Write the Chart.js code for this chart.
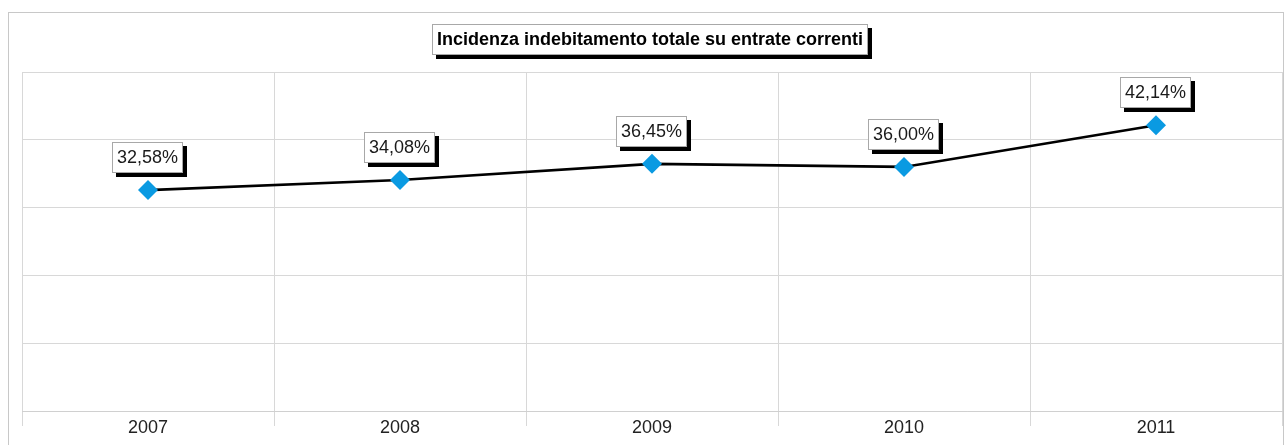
<!DOCTYPE html>
<html><head><meta charset="utf-8">
<script src="https://cdn.jsdelivr.net/npm/chart.js@4/dist/chart.umd.min.js"></script>
<style>html,body{margin:0;padding:0;background:#fff}#wrap{width:1285px;height:445px;position:relative}</style>
</head><body><div id="wrap"><canvas id="c" width="1285" height="445"></canvas></div>
<script>
const categories = ['2007', '2008', '2009', '2010', '2011'];
const values = [32.58, 34.08, 36.45, 36.00, 42.14];
const chartTitle = 'Incidenza indebitamento totale su entrate correnti';
const yMin = 0, yMax = 50, yStep = 10;

const FONT = '"Liberation Sans", Arial, sans-serif';

function shadowBox(ctx, x, y, w, h, off) {
  ctx.fillStyle = '#000';
  ctx.fillRect(x + off, y + off, w, h);
  ctx.fillStyle = '#fff';
  ctx.fillRect(x, y, w, h);
  ctx.strokeStyle = '#a8a8a8';
  ctx.lineWidth = 1;
  ctx.strokeRect(x + 0.5, y + 0.5, w - 1, h - 1);
}

const decor = {
  id: 'decor',
  beforeDraw(chart) {
    const ctx = chart.ctx;
    ctx.save();
    ctx.strokeStyle = '#c8c8c8';
    ctx.lineWidth = 1;
    ctx.strokeRect(8.5, 12.5, 1275, 450);
    ctx.restore();
  },
  afterDraw(chart) {
    const ctx = chart.ctx;
    ctx.save();
    ctx.font = 'bold 18px ' + FONT;
    const tw = ctx.measureText(chartTitle).width;
    const w = Math.round(tw + 10), h = 31;
    const cx = 650;
    shadowBox(ctx, Math.round(cx - w / 2), 24, w, h, 4);
    ctx.fillStyle = '#000';
    ctx.textAlign = 'center';
    ctx.textBaseline = 'middle';
    ctx.fillText(chartTitle, cx, 24 + h / 2 + 1);
    ctx.restore();
  },
  afterDatasetsDraw(chart) {
    const ctx = chart.ctx;
    const meta = chart.getDatasetMeta(0);
    ctx.save();
    ctx.font = '18px ' + FONT;
    meta.data.forEach((pt, i) => {
      const txt = values[i].toFixed(2).replace('.', ',') + '%';
      const tw = ctx.measureText(txt).width;
      const w = Math.round(tw + 10), h = 31;
      const x = Math.round(pt.x - w / 2 - 1), y = Math.round(pt.y - 17 - h);
      shadowBox(ctx, x, y, w, h, 4);
      ctx.fillStyle = '#1a1a1a';
      ctx.textAlign = 'center';
      ctx.textBaseline = 'middle';
      ctx.fillText(txt, x + w / 2, y + h / 2 + 1);
    });
    ctx.restore();
  }
};

new Chart(document.getElementById('c'), {
  type: 'line',
  data: {
    labels: categories,
    datasets: [{
      data: values,
      borderColor: '#000',
      borderWidth: 2.6,
      pointStyle: 'rectRot',
      pointRadius: 10,
      pointHoverRadius: 10,
      pointBackgroundColor: '#0a9ae2',
      pointBorderColor: '#0a9ae2',
      pointBorderWidth: 0,
      tension: 0
    }]
  },
  options: {
    responsive: false,
    animation: false,
    events: [],
    layout: { autoPadding: false, padding: { left: 22, right: 3, top: 72, bottom: 0 } },
    plugins: { legend: { display: false }, title: { display: false }, tooltip: { enabled: false } },
    scales: {
      x: {
        offset: true,
        grid: { offset: true, color: '#d8d8d8', lineWidth: 1, tickLength: 15, drawTicks: true },
        border: { color: '#d0d0d0' },
        ticks: { color: '#222', font: { family: FONT, size: 18 }, padding: -9, maxRotation: 0 },
        afterFit(s) { s.height = 34; s.paddingLeft = 0; s.paddingRight = 0; }
      },
      y: {
        min: yMin, max: yMax,
        ticks: { display: false, stepSize: yStep },
        grid: { color: '#d8d8d8', drawTicks: false },
        border: { display: false },
        afterFit(s) { s.width = 0; s.paddingTop = 0; s.paddingBottom = 0; }
      }
    }
  },
  plugins: [decor]
});
</script>
</body></html>
